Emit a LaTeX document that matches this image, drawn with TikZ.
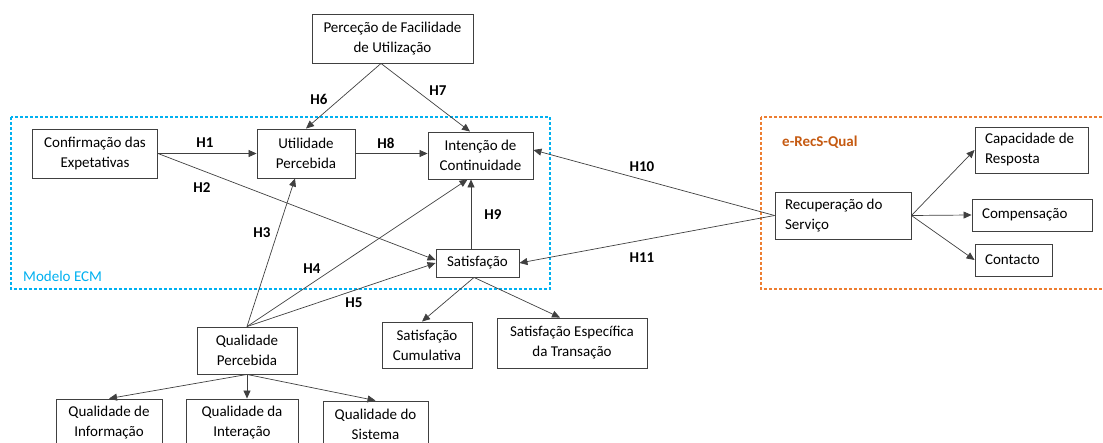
\documentclass[tikz,border=0pt]{standalone}
\usepackage{fontspec}
\setmainfont{Carlito}
\usepackage{xcolor}
\definecolor{EcmCyan}{HTML}{00B0F0}
\definecolor{RecsOrange}{HTML}{ED7D31}
\definecolor{RecsText}{HTML}{C55A11}
\definecolor{LineGray}{HTML}{404040}
\usetikzlibrary{arrows.meta,positioning,calc}

\begin{document}
\begin{tikzpicture}[x=1pt, y=-1pt, font=\fontsize{15}{20}\selectfont,
		box/.style={draw=LineGray, line width=0.9pt, inner sep=0pt, align=center},
		lbox/.style={draw=LineGray, line width=0.9pt, inner xsep=10pt, inner ysep=0pt, align=flush left},
		hyp/.style={font=\fontsize{15}{20}\selectfont\bfseries, inner sep=0pt},
		link/.style={draw=LineGray, line width=0.7pt, -{Triangle[length=8pt, width=7pt]}},
		group/.style={line width=1.3pt, dash pattern=on 3pt off 2pt}]
		\useasboundingbox (0,0) rectangle (1103,443);
		\clip (0,0) rectangle (1103,443);
		\draw[group, EcmCyan] (11,117) rectangle (550,289);
		\draw[group, RecsOrange] (761,117) rectangle (1112,289);
		\node[anchor=west, inner sep=0pt, text=EcmCyan] (ecmLabel) at (23,276) {Modelo ECM};
		\node[anchor=west, inner sep=0pt, text=RecsText, font=\fontsize{15}{20}\selectfont\bfseries] (recsLabel) at (782,142) {e-RecS-Qual};
		\node[box, minimum width=161pt, minimum height=49pt] (pfu) at (392.5,38.5) {Perceção de Facilidade\\de Utilização};
		\node[box, minimum width=125pt, minimum height=49pt] (ce) at (95,153.5) {Confirmação das\\Expetativas};
		\node[box, minimum width=98pt, minimum height=49pt] (up) at (306,153.5) {Utilidade\\Percebida};
		\node[box, minimum width=105pt, minimum height=47pt] (ic) at (480.5,155.5) {Intenção de\\Continuidade};
		\node[box, minimum width=83pt, minimum height=28pt] (sat) at (477.5,263) {Satisfação};
		\node[box, minimum width=100pt, minimum height=47pt] (qp) at (247,350.5) {Qualidade\\Percebida};
		\node[box, minimum width=90pt, minimum height=46pt] (scum) at (427,345) {Satisfação\\Cumulativa};
		\node[box, minimum width=150pt, minimum height=50pt] (sesp) at (572,343) {Satisfação Específica\\da Transação};
		\node[box, minimum width=106pt, minimum height=47pt] (qi) at (109,422.5) {Qualidade de\\Informação};
		\node[box, minimum width=112pt, minimum height=47pt] (qint) at (242,422.5) {Qualidade da\\Interação};
		\node[box, minimum width=105pt, minimum height=47pt] (qs) at (375.5,424.5) {Qualidade do\\Sistema};
		\node[lbox, text width=116pt, minimum height=47pt] (rs) at (843,215.5) {Recuperação do\\Serviço};
		\node[lbox, text width=93pt, minimum height=46pt] (cr) at (1031.5,150) {Capacidade de\\Resposta};
		\node[lbox, text width=100pt, minimum height=32pt] (comp) at (1032,215) {Compensação};
		\node[lbox, text width=57pt, minimum height=32pt] (cont) at (1013.5,260) {Contacto};
		\foreach \n/\x/\y in {1/205/143, 2/202/188, 3/262/233, 4/312/269, 5/354/303, 6/319/99, 7/438/91, 8/386/143, 9/493/215, 10/642/167, 11/642/258}
			\node[hyp] (h\n) at (\x,\y) {H\n};
		\draw[link] (ce.east) -- (ce.east -| up.west);
		\draw[link] (ce.east) -- ([yshift=3pt]sat.west);
		\draw[link] (qp.north) -- ([xshift=-11pt]up.south);
		\draw[link] (qp.north) -- ([xshift=-13pt]ic.south);
		\draw[link] (qp.north) -- (sat.west);
		\draw[link] ([xshift=-11.5pt]pfu.south) -- (up.north);
		\draw[link] ([xshift=-11.5pt]pfu.south) -- ([xshift=-10.5pt]ic.north);
		\draw[link] (up.east) -- (up.east -| ic.west);
		\coordinate (satTop) at ([xshift=-6.5pt]sat.north);
		\draw[link] (satTop) -- (satTop |- ic.south);
		\draw[link] (rs.west) -- ([yshift=5.5pt]ic.east);
		\draw[link] (rs.west) -- (sat.east);
		\foreach \dst in {cr,comp,cont}
			\draw[link] (rs.east) -- (\dst.west);
		\draw[link] ([xshift=-3.5pt]sat.south) -- ([xshift=-5pt]scum.north);
		\draw[link] ([xshift=-3.5pt]sat.south) -- ([xshift=-12pt]sesp.north);
		\draw[link] (qp.south) -- (qi.north);
		\draw[link] (qp.south) -- (qp.south |- qint.north);
		\draw[link] (qp.south) -- (qs.north);
	\end{tikzpicture}
\end{document}
